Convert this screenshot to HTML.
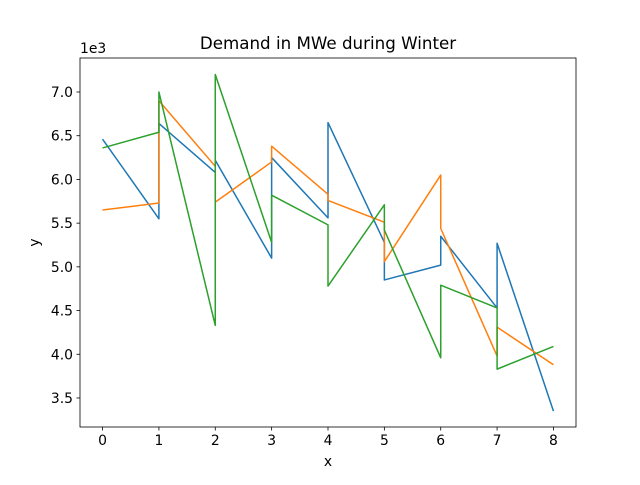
<!DOCTYPE html>
<html><head><meta charset="utf-8"><style>body{margin:0;background:#fff}svg{font-family:"DejaVu Sans","Liberation Sans",sans-serif}</style></head>
<body>
<svg id="c" width="640" height="480" xmlns="http://www.w3.org/2000/svg"></svg>
<script>
const xTicks=[0,1,2,3,4,5,6,7,8];
const yTicks=[3.5,4.0,4.5,5.0,5.5,6.0,6.5,7.0];
const blueX=[0,1,1,2,2,3,3,4,4,5,5,6,6,7,7,8];
const blueY=[6460,5550,6640,6080,6220,5100,6250,5560,6650,5280,4850,5020,5350,4530,5270,3350];
const orangeX=[0,1,1,2,2,3,3,4,4,5,5,6,6,7,7,8];
const orangeY=[5650,5730,6900,6150,5740,6200,6380,5830,5760,5510,5060,6050,5440,3980,4310,3880];
const greenX=[0,1,1,2,2,3,3,4,4,5,5,6,6,7,7,8];
const greenY=[6360,6540,7000,4330,7200,5280,5820,5480,4780,5710,5420,3960,4790,4530,3830,4090];
const L=80,R=576,T=58,B=427;
const xmin=-0.4,xmax=8.4,ymin=3168,ymax=7389;
const sx=v=>L+(v-xmin)/(xmax-xmin)*(R-L);
const sy=v=>B-(v-ymin)/(ymax-ymin)*(B-T);
const svg=document.getElementById('c');
const NS='http://www.w3.org/2000/svg';
function mk(t,a,txt){const e=document.createElementNS(NS,t);for(const k in a)e.setAttribute(k,a[k]);if(txt!==undefined)e.textContent=txt;svg.appendChild(e);return e;}
[[blueX,blueY,'#1f77b4','series-blue'],[orangeX,orangeY,'#ff7f0e','series-orange'],[greenX,greenY,'#2ca02c','series-green']].forEach(([xs,ys,c,n])=>{
 const p=mk('polyline',{points:xs.map((x,i)=>sx(x)+','+sy(ys[i])).join(' '),fill:'none',stroke:c,'stroke-width':1.5,'stroke-linejoin':'round'});
 
 
});
const f=mk('rect',{x:L,y:T,width:R-L,height:B-T,fill:'none',stroke:'#000','stroke-width':0.8});


xTicks.forEach(v=>{const x=sx(v);mk('line',{x1:x,x2:x,y1:B,y2:B+3.5,stroke:'#000','stroke-width':0.8});
 const t=mk('text',{x:x,y:B+18,'text-anchor':'middle','font-size':13.9},String(v));
 
 });
yTicks.forEach(v=>{const y=sy(v*1000);mk('line',{x1:L,x2:L-3.5,y1:y,y2:y,stroke:'#000','stroke-width':0.8});
 const t=mk('text',{x:L-7,y:y+5,'text-anchor':'end','font-size':13.9},v.toFixed(1));
 
 });
let t=mk('text',{x:L,y:T-5,'font-size':13.9},'1e3');


t=mk('text',{x:(L+R)/2,y:B+39,'text-anchor':'middle','font-size':13.9},'x');


t=mk('text',{x:39,y:(T+B)/2,'text-anchor':'middle','font-size':13.9,transform:`rotate(-90 39 ${(T+B)/2})`},'y');


t=mk('text',{x:(L+R)/2,y:T-9,'text-anchor':'middle','font-size':16.7},'Demand in MWe during Winter');


</script>
</body></html>
